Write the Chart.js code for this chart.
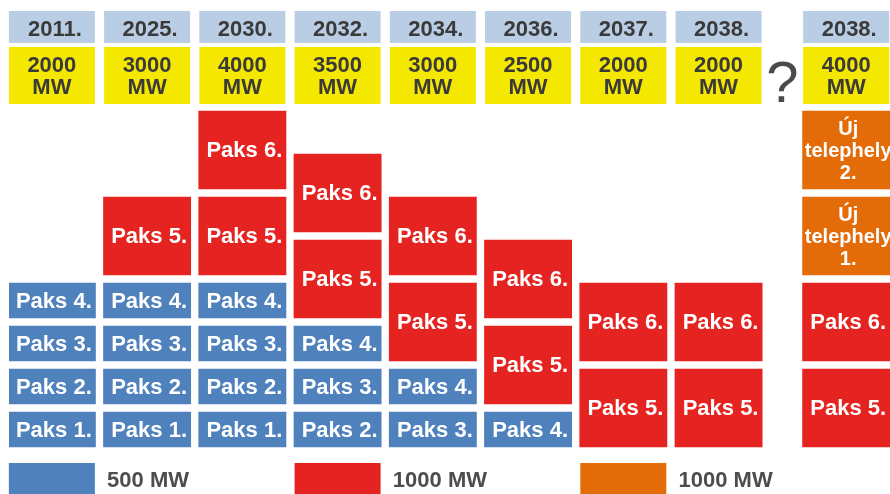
<!DOCTYPE html>
<html lang="hu">
<head>
<meta charset="utf-8">
<title>Paks kapacitás</title>
<script src="https://cdn.jsdelivr.net/npm/chart.js@4.4.1/dist/chart.umd.min.js"></script>
<style>
  html, body { margin: 0; padding: 0; background: #ffffff; }
  #wrap { width: 890px; height: 494px; }
</style>
</head>
<body>
<div id="wrap"><canvas id="myChart" width="890" height="494"></canvas></div>
<script>
'use strict';

// ******* DATA *******
let years = ['2011.', '2025.', '2030.', '2032.', '2034.', '2036.', '2037.', '2038.', '2038.'];
let totalMw = [2000, 3000, 4000, 3500, 3000, 2500, 2000, 2000, 4000];

// capacity of each unit per column (null = not running)
let paks1 = [500, 500, 500, null, null, null, null, null, null];
let paks2 = [500, 500, 500, 500, null, null, null, null, null];
let paks3 = [500, 500, 500, 500, 500, null, null, null, null];
let paks4 = [500, 500, 500, 500, 500, 500, null, null, null];
let paks5 = [null, 1000, 1000, 1000, 1000, 1000, 1000, 1000, 1000];
let paks6 = [null, null, 1000, 1000, 1000, 1000, 1000, 1000, 1000];
let ujTelephely1 = [null, null, null, null, null, null, null, null, 1000];
let ujTelephely2 = [null, null, null, null, null, null, null, null, 1000];

let legendLabels = ['500 MW', '1000 MW', '1000 MW'];

// ******* COLORS *******
let blue = '#4f81bd';
let red = '#e52421';
let orange = '#e36c09';
let yellow = '#f5e800';
let lightBlue = '#b9cde5';
let darkText = '#3a3a3a';
let font = '"Liberation Sans", Arial, sans-serif';

// the last column stands a bit apart (the "?" sits in the gap)
let questionGap = 0.34;
function colX(i) {
  return i < years.length - 1 ? i : i + questionGap;
}

function makeDataset(name, values, color) {
  let points = [];
  for (let i = 0; i < values.length; i++) {
    if (values[i] !== null) {
      points.push({ x: colX(i), y: values[i] });
    }
  }
  return {
    label: name,
    data: points,
    backgroundColor: color,
    borderColor: '#ffffff',
    borderWidth: 4,
    borderSkipped: false,
    barPercentage: 1,
    categoryPercentage: 1
  };
}

let datasets = [
  makeDataset('Paks 1.', paks1, blue),
  makeDataset('Paks 2.', paks2, blue),
  makeDataset('Paks 3.', paks3, blue),
  makeDataset('Paks 4.', paks4, blue),
  makeDataset('Paks 5.', paks5, red),
  makeDataset('Paks 6.', paks6, red),
  makeDataset('Új\ntelephely\n1.', ujTelephely1, orange),
  makeDataset('Új\ntelephely\n2.', ujTelephely2, orange)
];

// ******* PLUGINS *******

// white text inside each block
let blockLabels = {
  id: 'blockLabels',
  afterDatasetsDraw(chart) {
    let ctx = chart.ctx;
    ctx.save();
    ctx.fillStyle = '#ffffff';
    ctx.textAlign = 'center';
    ctx.textBaseline = 'middle';
    chart.data.datasets.forEach(function (ds, di) {
      let lines = ds.label.split('\n');
      let size = lines.length > 1 ? 20 : 22;
      ctx.font = 'bold ' + size + 'px ' + font;
      chart.getDatasetMeta(di).data.forEach(function (bar) {
        let cy = (bar.y + bar.base) / 2;
        let lh = 22;
        let top = cy - (lines.length - 1) * lh / 2;
        lines.forEach(function (line, li) {
          ctx.fillText(line, bar.x + 2, top + li * lh + 1);
        });
      });
    });
    ctx.restore();
  }
};

// year / MW header boxes, the question mark and the bottom legend
let slideParts = {
  id: 'slideParts',
  afterDraw(chart) {
    let ctx = chart.ctx;
    let xs = chart.scales.x;
    let half = 43;
    ctx.save();
    ctx.textAlign = 'center';
    ctx.textBaseline = 'alphabetic';

    for (let i = 0; i < years.length; i++) {
      let cx = xs.getPixelForValue(colX(i));
      ctx.fillStyle = lightBlue;
      ctx.fillRect(cx - half, 11, half * 2, 32);
      ctx.fillStyle = yellow;
      ctx.fillRect(cx - half, 47, half * 2, 57);

      ctx.fillStyle = darkText;
      ctx.font = 'bold 22px ' + font;
      ctx.fillText(years[i], cx + 3, 36);
      ctx.fillText(String(totalMw[i]), cx, 72);
      ctx.fillText('MW', cx, 94);
    }

    // question mark between the last two columns
    let qx = (xs.getPixelForValue(colX(years.length - 2)) + xs.getPixelForValue(colX(years.length - 1))) / 2;
    ctx.fillStyle = '#4a4a4a';
    ctx.font = '58px ' + font;
    ctx.fillText('?', qx, 102);

    // legend
    let legendColors = [blue, red, orange];
    ctx.textAlign = 'left';
    ctx.font = 'bold 22px ' + font;
    for (let k = 0; k < legendLabels.length; k++) {
      let boxX = xs.getPixelForValue(k * 3);
      let textX = xs.getPixelForValue(k * 3 + 1);
      ctx.fillStyle = legendColors[k];
      ctx.fillRect(boxX - half, 463, half * 2, 31);
      ctx.fillStyle = '#4d4d4d';
      ctx.fillText(legendLabels[k], textX - half + 3, 487);
    }
    ctx.restore();
  }
};

// ******* CHART *******
let canvasElem = document.getElementById('myChart').getContext('2d');

new Chart(canvasElem, {
  type: 'bar',
  data: { datasets: datasets },
  options: {
    responsive: false,
    animation: false,
    layout: { padding: { left: 9, right: 0, top: 107, bottom: 43 } },
    plugins: {
      legend: { display: false },
      tooltip: { enabled: false }
    },
    scales: {
      x: {
        type: 'linear',
        stacked: true,
        offset: false,
        min: -0.45,
        max: 8.8,
        display: false,
        // one tick per column, so the bar width follows the column spacing
        afterBuildTicks: function (scale) {
          scale.ticks = years.map(function (y, i) {
            return { value: colX(i) };
          });
        }
      },
      y: {
        stacked: true,
        min: 0,
        max: 4000,
        display: false
      }
    }
  },
  plugins: [blockLabels, slideParts]
});
</script>
</body>
</html>
